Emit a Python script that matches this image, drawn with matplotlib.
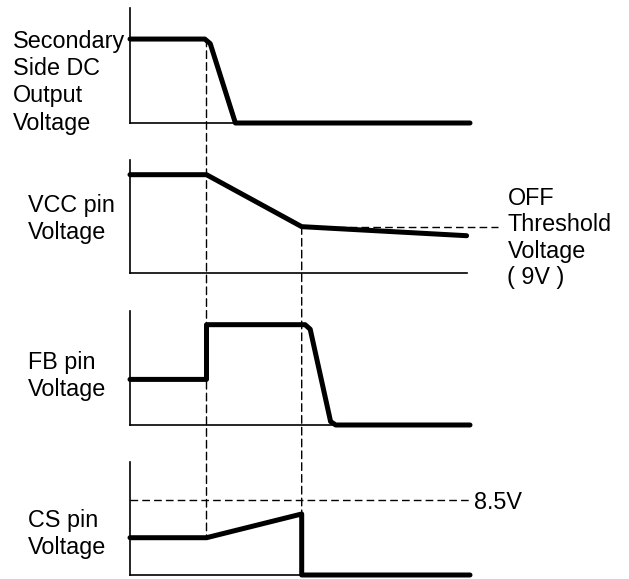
import matplotlib
matplotlib.use('Agg')
import matplotlib.pyplot as plt
from matplotlib.patches import ConnectionPatch

plt.rcParams['font.family'] = ['Liberation Sans', 'DejaVu Sans']

# time axis is 0..10, signal levels are 0..1 of each panel height
t_on = 2.25     # first event (output starts falling)
t_off = 5.05    # VCC reaches the OFF threshold

sec_t = [0, 2.2, 2.36, 3.1, 10]
sec_v = [0.73, 0.73, 0.69, 0, 0]

vcc_t = [0, 2.25, 5.05, 9.9]
vcc_v = [0.87, 0.87, 0.41, 0.33]
vcc_off = 0.41

fb_t = [0, 2.25, 2.25, 5.15, 5.3, 5.9, 6.05, 10]
fb_v = [0.40, 0.40, 0.88, 0.88, 0.84, 0.03, 0, 0]

cs_t = [0, 2.25, 5.05, 5.05, 10]
cs_v = [0.33, 0.33, 0.54, 0, 0]
cs_limit = 0.665

labels = ['Secondary\nSide DC\nOutput\nVoltage', 'VCC pin\nVoltage', 'FB pin\nVoltage', 'CS pin\nVoltage']
label_x = [-3.45, -3.0, -3.0, -3.0]
label_y = [0.355, 0.48, 0.43, 0.36]

W, H = 629, 579
fig = plt.figure(figsize=(W / 100, H / 100), dpi=100)

# panel boxes in pixels: (top, bottom), x from 130 to 470
boxes = [(8, 123), (160, 273), (311, 425), (462, 575)]
axes = []
for top, bot in boxes:
    ax = fig.add_axes([130 / W, 1 - bot / H, 340 / W, (bot - top) / H])
    ax.set_xlim(0, 10)
    ax.set_ylim(0, 1)
    for s in ['top', 'right']:
        ax.spines[s].set_visible(False)
    for s in ['left', 'bottom']:
        ax.spines[s].set_linewidth(1.2)
        ax.spines[s].set_color('black')
    ax.set_xticks([])
    ax.set_yticks([])
    ax.patch.set_alpha(0)
    axes.append(ax)

axes[1].spines['bottom'].set_bounds(0, 9.9)

sig = dict(color='black', lw=3.6, solid_joinstyle='round', solid_capstyle='round', clip_on=False, zorder=5)
dash = dict(color='black', lw=1.0, ls=(0, (5.5, 3)))

axes[0].plot(sec_t, sec_v, **sig)
axes[1].plot(vcc_t, vcc_v, **sig)
axes[2].plot(fb_t, fb_v, **sig)
axes[3].plot(cs_t, cs_v, **sig)

fs = 16.8
for ax, lab, lx, ly in zip(axes, labels, label_x, label_y):
    ax.text(lx, ly, lab, ha='left', va='center', fontsize=fs, linespacing=1.24)

# threshold lines
axes[1].plot([t_off, 10.82], [vcc_off, vcc_off], clip_on=False, **dash)
axes[1].text(11.1, 0.31, 'OFF\nThreshold\nVoltage\n( 9V )', ha='left', va='center',
             fontsize=fs, linespacing=1.2)
axes[3].plot([0, 10], [cs_limit, cs_limit], clip_on=False, **dash)
axes[3].text(10.12, cs_limit - 0.02, '8.5V', ha='left', va='center', fontsize=fs)

# vertical event markers spanning panels
c1 = ConnectionPatch((t_on, sec_v[1]), (t_on, cs_v[1]), 'data', 'data',
                     axesA=axes[0], axesB=axes[3], **dash)
c2 = ConnectionPatch((t_off, vcc_off), (t_off, cs_v[2]), 'data', 'data',
                     axesA=axes[1], axesB=axes[3], **dash)
fig.add_artist(c1)
fig.add_artist(c2)

fig.savefig('out.png', dpi=100)
